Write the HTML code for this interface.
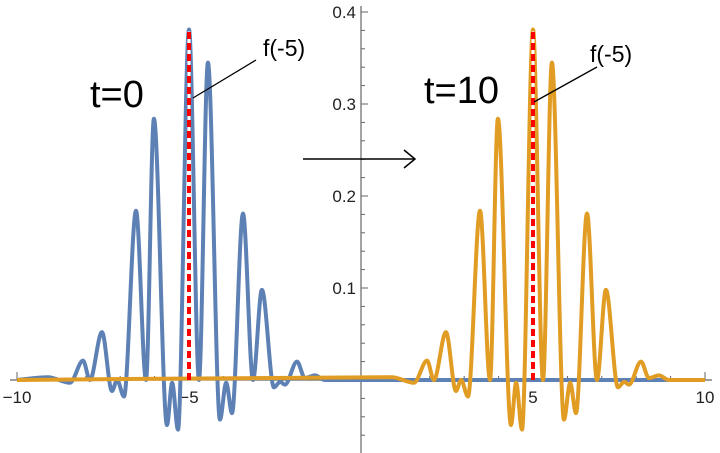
<!DOCTYPE html>
<html><head><meta charset="utf-8"><style>
html,body{margin:0;padding:0;background:#fff;}
svg{display:block;font-family:"Liberation Sans",sans-serif;}
</style></head><body>
<svg id="chart" width="720" height="453" viewBox="0 0 720 453" xmlns="http://www.w3.org/2000/svg"></svg>
<script>
// data: extrema of the t=0 curve (blue) and t=10 curve (orange)
const blueX = [-10,-9.10,-8.46,-8.08,-7.88,-7.53,-7.24,-7.09,-6.89,-6.54,-6.25,-6.02,-5.64,-5.49,-5.32,-5.00,-4.71,-4.45,-4.10,-3.92,-3.75,-3.43,-3.14,-2.88,-2.53,-2.35,-2.21,-1.86,-1.63,-1.34,-1.05,10];
const blueY = [0,0.003,-0.003,0.021,0,0.052,-0.012,0,-0.018,0.184,0,0.284,-0.049,-0.003,-0.054,0.381,0,0.345,-0.043,-0.003,-0.036,0.181,0,0.098,-0.008,-0.002,-0.005,0.020,0.002,0.005,0,0];
const orangeX = [-10,0.90,1.54,1.92,2.12,2.47,2.76,2.91,3.11,3.46,3.75,3.98,4.36,4.51,4.68,5.00,5.29,5.55,5.90,6.08,6.25,6.57,6.86,7.12,7.47,7.65,7.79,8.14,8.37,8.66,8.95,10];
const orangeY = [0,0.003,-0.003,0.021,0,0.052,-0.012,0,-0.018,0.184,0,0.284,-0.049,-0.003,-0.054,0.381,0,0.345,-0.043,-0.003,-0.036,0.181,0,0.098,-0.008,-0.002,-0.005,0.020,0.002,0.005,0,0];
const xTickVals = [-10,-5,5,10];
const xTickLabels = ["\u221210","\u22125","5","10"];
const yTickVals = [0.1,0.2,0.3,0.4];
const yTickLabels = ["0.1","0.2","0.3","0.4"];
const markerXs = [-5,5];
const markerY = 0.381;

const NS="http://www.w3.org/2000/svg";
const svg=document.getElementById('chart');
const X=v=>361+v*34.4;
const Y=v=>380-v*920;
function mk(tag,attrs,parent){const e=document.createElementNS(NS,tag);for(const k in attrs)e.setAttribute(k,attrs[k]);(parent||svg).appendChild(e);return e;}

// axes
const ax=mk('g',{});


let l=mk('line',{x1:10,y1:380,x2:712,y2:380,stroke:'#666','stroke-width':1.2},ax);


l=mk('line',{x1:361,y1:6,x2:361,y2:453,stroke:'#666','stroke-width':1.2},ax);


for(let i=-10;i<=10;i++){if(i===0)continue;const major=i%5===0;mk('line',{x1:X(i),x2:X(i),y1:380,y2:major?372:376,stroke:'#666','stroke-width':1},ax);}
for(let k=-3;k<=20;k++){const v=k*0.02;if(k===0)continue;const major=k%5===0;mk('line',{x1:361,x2:major?368:365,y1:Y(v),y2:Y(v),stroke:'#666','stroke-width':1},ax);}
xTickVals.forEach((v,i)=>{const t=mk('text',{x:X(v),y:403,'text-anchor':'middle','font-size':17,fill:'#222'},ax);t.textContent=xTickLabels[i];

});
yTickVals.forEach((v,i)=>{const t=mk('text',{x:356,y:Y(v)+6,'text-anchor':'end','font-size':17,fill:'#222'},ax);t.textContent=yTickLabels[i];

});

// monotone cubic path
function mono(xs,ys){const n=xs.length,px=xs.map(X),py=ys.map(Y);const d=[],m=new Array(n);
for(let i=0;i<n-1;i++)d.push((py[i+1]-py[i])/(px[i+1]-px[i]));
m[0]=d[0];m[n-1]=d[n-2];
for(let i=1;i<n-1;i++){m[i]=(d[i-1]*d[i]<=0)?0:2/(1/d[i-1]+1/d[i]);}
let s='M'+px[0]+','+py[0];
for(let i=0;i<n-1;i++){const h=px[i+1]-px[i];s+=' C'+(px[i]+h/3)+','+(py[i]+m[i]*h/3)+' '+(px[i+1]-h/3)+','+(py[i+1]-m[i+1]*h/3)+' '+px[i+1]+','+py[i+1];}
return s;}
const pb=mk('path',{d:mono(blueX,blueY),fill:'none',stroke:'#5e81b5','stroke-width':4,'stroke-linejoin':'round'});


const po=mk('path',{d:mono(orangeX,orangeY),fill:'none',stroke:'#e19c24','stroke-width':4,'stroke-linejoin':'round'});



markerXs.forEach(v=>{
const w=mk('line',{x1:X(v),x2:X(v),y1:Y(0),y2:Y(markerY)+2,stroke:'#fff','stroke-width':3});


const r=mk('line',{x1:X(v),x2:X(v),y1:Y(0),y2:Y(markerY)+2,stroke:'#f00','stroke-width':4,'stroke-dasharray':'7 4'});


});
</script>
<svg width="720" height="453" style="position:absolute;left:0;top:0" xmlns="http://www.w3.org/2000/svg" font-family="Liberation Sans, sans-serif">
<text x="90" y="107" font-size="38">t=0</text>
<text x="424" y="103" font-size="38">t=10</text>
<line x1="193" y1="98" x2="256" y2="60" stroke="#000" stroke-width="1.3"/>
<text x="263" y="56" font-size="23">f(-5)</text>
<line x1="534" y1="102" x2="597" y2="67" stroke="#000" stroke-width="1.3"/>
<text x="590" y="62" font-size="23">f(-5)</text>
<g stroke="#000" stroke-width="1.5" fill="none">
<line x1="303" y1="159" x2="415" y2="159"/>
<polyline points="404,150 415,159 404,168"/>
</g>
</svg>
</body></html>
